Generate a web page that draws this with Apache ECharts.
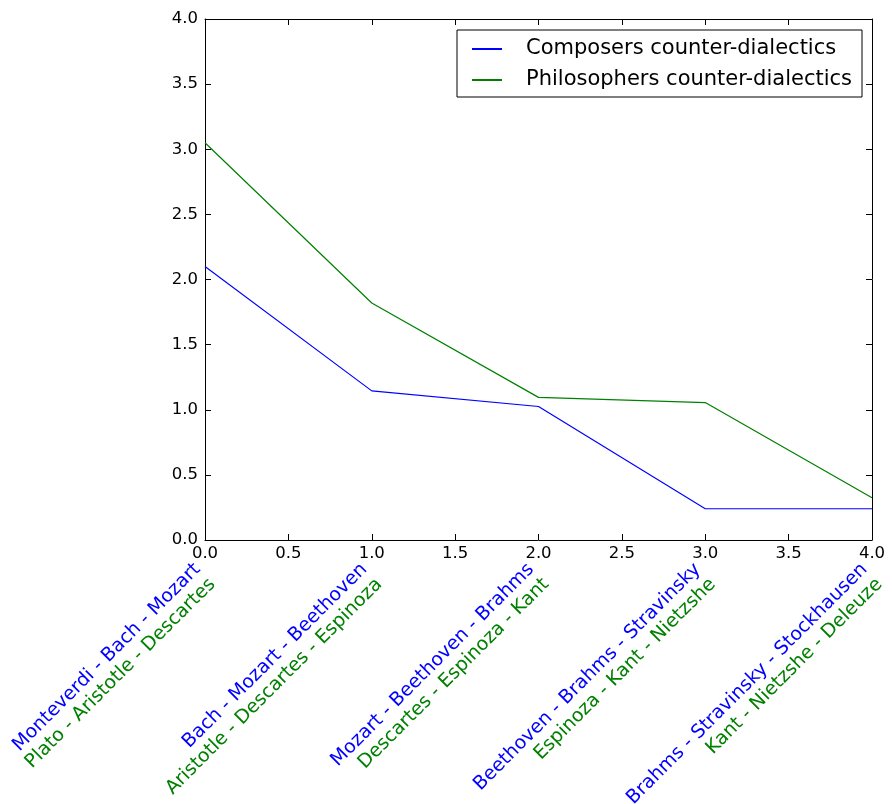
<!DOCTYPE html>
<html>
<head>
<meta charset="utf-8">
<script src="https://cdn.jsdelivr.net/npm/echarts@6/dist/echarts.min.js"></script>
<style>html,body{margin:0;padding:0;background:#fff}#c{width:892px;height:804px}</style>
</head>
<body>
<div id="c"></div>
<script>
const positions = [0, 1, 2, 3, 4];
const composersLabels = [
  "Monteverdi - Bach - Mozart",
  "Bach - Mozart - Beethoven",
  "Mozart - Beethoven - Brahms",
  "Beethoven - Brahms - Stravinsky",
  "Brahms - Stravinsky - Stockhausen"
];
const philosophersLabels = [
  "Plato - Aristotle - Descartes",
  "Aristotle - Descartes - Espinoza",
  "Descartes - Espinoza - Kant",
  "Espinoza - Kant - Nietzshe",
  "Kant - Nietzshe - Deleuze"
];
const composersValues = [2.10, 1.145, 1.025, 0.24, 0.24];
const philosophersValues = [3.05, 1.82, 1.095, 1.055, 0.325];
const seriesNames = ["Composers counter-dialectics", "Philosophers counter-dialectics"];
const numTicks = ["0.0", "0.5", "1.0", "1.5", "2.0", "2.5", "3.0", "3.5", "4.0"];

const FONT = "DejaVu Sans";
const chart = echarts.init(document.getElementById('c'), null, {renderer: 'canvas'});
const fmt = v => numTicks[Math.round(v * 2)];
chart.setOption({
  animation: false,
  backgroundColor: '#fff',
  textStyle: {fontFamily: FONT},
  grid: {left: 205, right: 20, top: 19, bottom: 264, containLabel: false, outerBoundsMode: 'none'},
  legend: {
    orient: 'vertical',
    left: 457, top: 30,
    padding: [7, 8, 5, 15],
    itemGap: 7,
    itemWidth: 30, itemHeight: 2,
    icon: 'rect',
    borderColor: '#000', borderWidth: 1, borderRadius: 0,
    textStyle: {fontFamily: FONT, fontSize: 21, color: '#000', lineHeight: 24, padding: [0, 2, 0, 19]},
    data: seriesNames
  },
  xAxis: [
    {
      type: 'value', position: 'bottom', min: 0, max: 4, interval: 0.5,
      axisLine: {show: true, onZero: false, lineStyle: {color: '#000', width: 1}},
      axisTick: {show: true, inside: true, length: 6, lineStyle: {color: '#000'}},
      axisLabel: {show: true, margin: 5, color: '#000', fontSize: 16.5, fontFamily: FONT, formatter: fmt},
      splitLine: {show: false}
    },
    {
      type: 'value', position: 'top', min: 0, max: 4, interval: 0.5,
      axisLine: {show: true, onZero: false, lineStyle: {color: '#000', width: 1}},
      axisTick: {show: true, inside: true, length: 6, lineStyle: {color: '#000'}},
      axisLabel: {show: false},
      splitLine: {show: false}
    },
    {
      type: 'value', position: 'bottom', min: 0, max: 4, interval: 1, offset: 0,
      axisLine: {show: false}, axisTick: {show: false}, splitLine: {show: false},
      axisLabel: {
        show: true, rotate: 45, margin: 34,
        formatter: v => {
          const i = Math.round(v);
          return '{a|' + composersLabels[i] + '}\n{b|' + philosophersLabels[i] + '}';
        },
        rich: {
          a: {color: '#0000ff', fontSize: 19, fontFamily: FONT, lineHeight: 21, align: 'right'},
          b: {color: '#008000', fontSize: 19, fontFamily: FONT, lineHeight: 21, align: 'right'}
        }
      }
    }
  ],
  yAxis: [
    {
      type: 'value', position: 'left', min: 0, max: 4, interval: 0.5,
      axisLine: {show: true, onZero: false, lineStyle: {color: '#000', width: 1}},
      axisTick: {show: true, inside: true, length: 6, lineStyle: {color: '#000'}},
      axisLabel: {show: true, margin: 7, color: '#000', fontSize: 16.5, fontFamily: FONT, formatter: fmt},
      splitLine: {show: false}
    },
    {
      type: 'value', position: 'right', min: 0, max: 4, interval: 0.5,
      axisLine: {show: true, onZero: false, lineStyle: {color: '#000', width: 1}},
      axisTick: {show: true, inside: true, length: 6, lineStyle: {color: '#000'}},
      axisLabel: {show: false},
      splitLine: {show: false}
    }
  ],
  series: [
    {
      name: seriesNames[0], type: 'line', xAxisIndex: 0, yAxisIndex: 0,
      data: positions.map((x, i) => [x, composersValues[i]]),
      showSymbol: false, symbol: 'none', color: '#0000ff',
      lineStyle: {color: '#0000ff', width: 1.2}
    },
    {
      name: seriesNames[1], type: 'line', xAxisIndex: 0, yAxisIndex: 0,
      data: positions.map((x, i) => [x, philosophersValues[i]]),
      showSymbol: false, symbol: 'none', color: '#008000',
      lineStyle: {color: '#008000', width: 1.2}
    }
  ]
});
</script>
</body>
</html>
